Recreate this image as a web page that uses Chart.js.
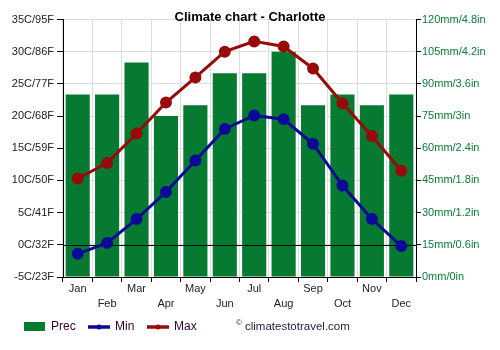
<!DOCTYPE html>
<html>
<head>
<meta charset="utf-8">
<script src="https://cdn.jsdelivr.net/npm/chart.js@4"></script>
<style>
  html, body { margin: 0; padding: 0; background: #fff; }
  #wrap { width: 500px; height: 350px; }
</style>
</head>
<body>
<div id="wrap"><canvas id="climateChart" width="500" height="350"></canvas></div>
<script>
// Climate chart - Charlotte

const months = ['Jan', 'Feb', 'Mar', 'Apr', 'May', 'Jun', 'Jul', 'Aug', 'Sep', 'Oct', 'Nov', 'Dec'];
const precMm = [85, 85, 100, 75, 80, 95, 95, 105, 80, 85, 80, 85];
const minTemp = [-1.4, 0.3, 4.0, 8.2, 13.1, 18.0, 20.1, 19.5, 15.7, 9.2, 4.0, -0.2];
const maxTemp = [10.3, 12.7, 17.3, 22.1, 26.0, 30.0, 31.6, 30.8, 27.4, 22.0, 16.9, 11.5];

const tempMin = -5, tempMax = 35, tempStep = 5;
const precMax = 120, precStep = 7.5;

const green = '#067a30';
const blue = '#0a0a96';
const red = '#970b0b';
const font = 'Liberation Sans, Arial, sans-serif';

// Title, zero line and legend drawn by hand
const extras = {
    id: 'extras',
    afterDatasetDraw(chart, args) {
        if (args.index !== 2) return; // the bars
        const ctx = chart.ctx;
        const y = chart.scales.y.getPixelForValue(0);
        ctx.save();
        ctx.strokeStyle = '#000';
        ctx.lineWidth = 1;
        ctx.beginPath();
        ctx.moveTo(chart.chartArea.left, Math.round(y) + 0.5);
        ctx.lineTo(chart.chartArea.right, Math.round(y) + 0.5);
        ctx.stroke();
        ctx.restore();
    },
    afterDraw(chart) {
        const ctx = chart.ctx;
        ctx.save();
        ctx.textBaseline = 'middle';

        ctx.fillStyle = '#000';
        ctx.font = 'bold 13px ' + font;
        ctx.textAlign = 'center';
        ctx.fillText('Climate chart - Charlotte', 250, 17);

        const ly = 327;
        ctx.textAlign = 'left';
        ctx.font = '12px ' + font;

        ctx.fillStyle = green;
        ctx.fillRect(24, 322, 21, 9);
        ctx.fillStyle = '#300030';
        ctx.fillText('Prec', 51, ly);

        [[88, blue, 'Min'], [147, red, 'Max']].forEach(function(item) {
            ctx.strokeStyle = item[1];
            ctx.lineWidth = 3.5;
            ctx.beginPath();
            ctx.moveTo(item[0], ly);
            ctx.lineTo(item[0] + 22, ly);
            ctx.stroke();
            ctx.fillStyle = item[1];
            ctx.beginPath();
            ctx.arc(item[0] + 11, ly, 2.5, 0, Math.PI * 2);
            ctx.fill();
            ctx.fillStyle = '#300030';
            ctx.fillText(item[2], item[0] + 27, ly);
        });

        ctx.fillStyle = '#222244';
        ctx.font = '8px ' + font;
        ctx.fillText('©', 236, 323);
        ctx.font = '11.5px ' + font;
        ctx.fillText('climatestotravel.com', 245, ly);
        ctx.restore();
    }
};

const chart = new Chart(document.getElementById('climateChart'), {
    type: 'bar',
    data: {
        labels: months,
        datasets: [
            {
                type: 'line',
                label: 'Min',
                data: minTemp,
                yAxisID: 'y',
                borderColor: blue,
                backgroundColor: blue,
                borderWidth: 3,
                pointRadius: 4.5,
                pointHoverRadius: 4.5,
                tension: 0,
                order: 0
            },
            {
                type: 'line',
                label: 'Max',
                data: maxTemp,
                yAxisID: 'y',
                borderColor: red,
                backgroundColor: red,
                borderWidth: 3,
                pointRadius: 4.5,
                pointHoverRadius: 4.5,
                tension: 0,
                order: 1
            },
            {
                type: 'bar',
                label: 'Prec',
                data: precMm,
                yAxisID: 'y2',
                backgroundColor: green,
                borderWidth: 0,
                barPercentage: 0.82,
                categoryPercentage: 1,
                order: 2
            }
        ]
    },
    options: {
        responsive: false,
        animation: false,
        events: [],
        layout: { padding: { top: 19.5, bottom: 33, left: 0, right: 0 } },
        plugins: {
            legend: { display: false },
            title: { display: false },
            tooltip: { enabled: false }
        },
        scales: {
            x: {
                offset: true,
                afterFit: function(scale) { scale.height = 40; },
                grid: {
                    offset: true,
                    color: '#dddddd',
                    tickColor: '#000',
                    tickLength: 5
                },
                border: { color: '#000' },
                ticks: {
                    color: '#222',
                    font: { family: font, size: 11, lineHeight: 1.4 },
                    padding: -1,
                    maxRotation: 0,
                    autoSkip: false,
                    callback: function(value, index) {
                        const m = months[index];
                        return index % 2 === 0 ? m : ['', m];
                    }
                }
            },
            y: {
                position: 'left',
                min: tempMin,
                max: tempMax,
                afterFit: function(scale) { scale.width = 63; },
                grid: {
                    color: '#dddddd',
                    tickColor: '#000',
                    tickLength: 6
                },
                border: { color: '#000' },
                ticks: {
                    stepSize: tempStep,
                    color: '#222',
                    padding: 3,
                    font: { family: font, size: 11 },
                    callback: function(value) {
                        return value + 'C/' + Math.round(value * 9 / 5 + 32) + 'F';
                    }
                }
            },
            y2: {
                position: 'right',
                min: 0,
                max: precMax,
                afterFit: function(scale) { scale.width = 84; },
                grid: {
                    drawOnChartArea: false,
                    tickColor: '#000',
                    tickLength: 5
                },
                border: { color: '#000' },
                ticks: {
                    stepSize: precStep,
                    color: '#08803a',
                    padding: 1,
                    font: { family: font, size: 11 },
                    callback: function(value) {
                        if (value % 15 !== 0) return '';
                        return value + 'mm/' + (Math.round(value / 25 * 10) / 10) + 'in';
                    }
                }
            }
        }
    },
    plugins: [extras]
});
</script>
</body>
</html>
